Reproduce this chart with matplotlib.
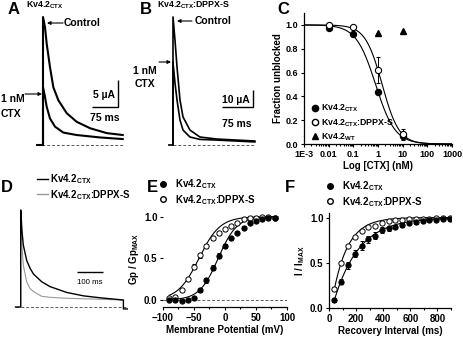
import numpy as np
import matplotlib
matplotlib.use('Agg')
import matplotlib.pyplot as plt
from matplotlib.transforms import Affine2D
from matplotlib.lines import Line2D
from matplotlib.ticker import FormatStrFormatter, MultipleLocator

plt.rcParams['font.family'] = ['Liberation Sans', 'DejaVu Sans']
plt.rcParams['font.weight'] = 'bold'
plt.rcParams['axes.labelweight'] = 'bold'
plt.rcParams['mathtext.fontset'] = 'custom'
plt.rcParams['mathtext.rm'] = 'Liberation Sans:bold'
plt.rcParams['mathtext.it'] = 'Liberation Sans:bold'
plt.rcParams['mathtext.bf'] = 'Liberation Sans:bold'
plt.rcParams['mathtext.default'] = 'rm'

W, H = 464, 337

# --- A: Kv4.2CTX currents, control vs 1 nM CTX (ms, uA)
a_t_ctrl = [-17, 0, 0, 5.8, 10.6, 20.2, 29.8, 44.2, 68.3, 97, 136, 184, 230]
a_i_ctrl = [0, 0, 23.7, 21.8, 18.8, 14.4, 10.7, 8.3, 5.9, 4.3, 3.1, 2.2, 1.85]
a_t_ctx = [0, 0, 5.8, 10.6, 20.2, 34.6, 58.6, 97, 164, 230]
a_i_ctx = [0, 10.7, 8.9, 7.1, 4.9, 3.4, 2.3, 1.85, 1.4, 1.1]

# --- B: Kv4.2CTX:DPPX-S currents (ms, uA)
b_t_ctrl = [-10, 0, 0, 4.8, 9.7, 16.9, 24.2, 41, 65, 106, 198]
b_i_ctrl = [0, 0, 75.3, 61.7, 45.9, 26.5, 16.5, 8.8, 4.7, 3.5, 2.35]
b_t_ctx = [0, 0, 4.8, 9.7, 16.9, 24.2, 41, 65, 106, 198]
b_i_ctx = [0, 48.8, 36.5, 26.5, 14.7, 8.8, 4.7, 3.3, 2.9, 1.8]

# --- C: dose response
c_conc = [0.01, 0.1, 1, 10]
c_ctx = [0.97, 0.92, 0.44, 0.07]
c_ctx_err = [0.01, 0.01, 0.02, 0.03]
c_dppx = [1.0, 0.98, 0.62, 0.08]
c_dppx_err = [0.01, 0.01, 0.11, 0.05]
c_wt_conc = [1, 10]
c_wt = [0.93, 0.95]
c_ticks = [1e-3, 1e-2, 1e-1, 1, 10, 100, 1000]
c_ticklabels = ['1E-3', '0.01', '0.1', '1', '10', '100', '1000']
ic50_ctx, hill_ctx = 0.8, 1.1
ic50_dppx, hill_dppx = 1.47, 1.27

# --- D: normalized traces (ms, I/Ipeak)
d_t_ctx = [-20, 0, 0, 5, 10, 23, 36, 49, 81, 113, 177, 241, 305, 395, 395, 410]
d_i_ctx = [0, 0, 1.0, 0.78, 0.64, 0.48, 0.40, 0.34, 0.26, 0.21, 0.15, 0.115,
           0.095, 0.072, -0.02, -0.02]
d_t_dppx = [0, 0, 4, 10, 23, 36, 49, 81, 113, 177, 305, 395]
d_i_dppx = [0, 1.0, 0.67, 0.43, 0.26, 0.19, 0.16, 0.11, 0.10, 0.09, 0.08, 0.072]

# --- E: conductance-voltage
e_v = [-90, -80, -70, -60, -50, -40, -30, -20, -10, 0, 10, 20, 30, 40, 50, 60, 70, 80]
e_ctx = [0.0, 0.0, -0.01, 0.0, 0.03, 0.12, 0.24, 0.39, 0.53, 0.65, 0.74, 0.81,
         0.87, 0.92, 0.95, 0.97, 0.98, 0.99]
e_ctx_err = [0.01, 0.01, 0.01, 0.01, 0.01, 0.02, 0.03, 0.03, 0.03, 0.02, 0.02,
             0.02, 0.02, 0.01, 0.01, 0.01, 0.01, 0.01]
e_dppx = [0.03, 0.04, 0.12, 0.25, 0.40, 0.54, 0.65, 0.74, 0.80, 0.85, 0.89, 0.93,
          0.97, 0.98, 0.99, 1.0, 1.0, 0.99]
e_dppx_err = [0.01, 0.01, 0.01, 0.02, 0.03, 0.03, 0.02, 0.02, 0.02, 0.02, 0.01,
              0.01, 0.01, 0.01, 0.01, 0.01, 0.01, 0.01]
vhalf_ctx, k_ctx = -11, 15
vhalf_dppx, k_dppx = -42, 17

# --- F: recovery from inactivation
f_t = [40, 90, 140, 190, 240, 290, 340, 390, 440, 490, 540, 590, 640, 690, 740, 790, 840, 890]
f_ctx = [0.09, 0.29, 0.47, 0.60, 0.69, 0.76, 0.80, 0.86, 0.88, 0.90, 0.92, 0.94,
         0.95, 0.96, 0.97, 0.97, 0.98, 0.98]
f_ctx_err = [0.02, 0.03, 0.04, 0.04, 0.05, 0.04, 0.04, 0.03, 0.03, 0.02, 0.02,
             0.02, 0.02, 0.01, 0.01, 0.01, 0.01, 0.01]
f_dppx = [0.21, 0.50, 0.69, 0.79, 0.85, 0.89, 0.91, 0.94, 0.96, 0.97, 0.97, 0.98,
          0.98, 0.98, 0.98, 0.99, 0.99, 0.99]
f_dppx_err = [0.02, 0.01, 0.01, 0.01, 0.01, 0.01, 0.01, 0.01, 0.01, 0.01, 0.01,
              0.01, 0.01, 0.01, 0.01, 0.01, 0.01, 0.01]
t0_ctx, tau_ctx = 22.6, 185
t0_dppx, tau_dppx = 14, 109

CTX = 'Kv4.2$_{CTX}$'
DPPX = 'Kv4.2$_{CTX}$:DPPX-S'
WT = 'Kv4.2$_{WT}$'

fig = plt.figure(figsize=(W / 100, H / 100), dpi=100)
pix = Affine2D().scale(1 / W, -1 / H).translate(0, 1) + fig.transFigure


def px_axes(x0, y0, x1, y1):
    return fig.add_axes([x0 / W, 1 - y1 / H, (x1 - x0) / W, (y1 - y0) / H])


def trace_axes(box, origin, x_per_px, y_per_px):
    x0, y0, x1, y1 = box
    ox, oy = origin
    ax = px_axes(x0, y0, x1, y1)
    ax.set_xlim((x0 - ox) * x_per_px, (x1 - ox) * x_per_px)
    ax.set_ylim((oy - y1) * y_per_px, (oy - y0) * y_per_px)
    ax.axis('off')
    return ax


def scale_bar(ax, x_end, y0, dx, dy, lw=1.0):
    ax.plot([x_end - dx, x_end, x_end], [y0, y0, y0 + dy], color='k', lw=lw,
            solid_joinstyle='miter', solid_capstyle='butt')


def label(x, y, s, size=7.5, **kw):
    kw.setdefault('ha', 'left')
    kw.setdefault('va', 'center')
    fig.text(x, y, s, transform=pix, fontsize=size, **kw)


def arrow(x_from, x_to, y):
    fig.add_artist(matplotlib.patches.FancyArrowPatch(
        (x_from, y), (x_to, y), transform=pix, arrowstyle='-|>',
        mutation_scale=5, lw=0.8, color='k', shrinkA=0, shrinkB=0))


def style_axes(ax, size=6.5):
    ax.spines['top'].set_visible(False)
    ax.spines['right'].set_visible(False)
    for s in ('left', 'bottom'):
        ax.spines[s].set_linewidth(0.9)
    ax.tick_params(which='both', direction='out', width=0.8, labelsize=size, pad=1.5)
    ax.tick_params(which='major', length=2.5)
    ax.tick_params(which='minor', length=1.5)


dash = (0, (3, 2))

# ---------------- A ----------------
axa = trace_axes((20, 10, 130, 150), (43, 145), 75 / 26, 5 / 27)
axa.plot([a_t_ctrl[0], a_t_ctrl[-1]], [0, 0], color='0.35', lw=0.7, ls=dash)
axa.plot(a_t_ctrl, a_i_ctrl, color='k', lw=1.5)
axa.plot(a_t_ctx, a_i_ctx, color='k', lw=1.5)
scale_bar(axa, 216, 7.0, 75, 5)
label(8, 9, 'A', size=12)
label(45, 5, CTX, size=6.3, ha='center')
label(64, 23, 'Control')
arrow(63, 47, 23)
label(1, 99, '1 nM')
label(1, 114, 'CTX')
arrow(25, 42, 94)
label(115, 95, '5 µA', ha='right')
label(105, 118, '75 ms', ha='center')

# ---------------- B ----------------
axb = trace_axes((150, 10, 270, 150), (173, 145), 75 / 31, 10 / 17)
axb.plot([b_t_ctrl[1], b_t_ctrl[-1]], [0, 0], color='0.35', lw=0.7, ls=dash)
axb.plot(b_t_ctrl, b_i_ctrl, color='k', lw=1.2)
axb.plot(b_t_ctx, b_i_ctx, color='k', lw=1.2)
scale_bar(axb, 194, 22.3, 75, 10)
label(140, 9, 'B', size=12)
label(193, 5, DPPX, size=6.3, ha='center')
label(195, 21, 'Control')
arrow(192, 177, 21)
label(133, 71, '1 nM')
label(135, 84, 'CTX')
arrow(159, 171, 62)
label(250, 100, '10 µA', ha='right')
label(237, 124, '75 ms', ha='center')

# ---------------- C ----------------
axc = px_axes(304, 13, 452, 144)
style_axes(axc)
axc.set_xscale('log')
axc.set_xlim(1e-3, 1e3)
axc.set_ylim(0, 1.1)
axc.set_xticks(c_ticks)
axc.set_xticklabels(c_ticklabels)
axc.set_yticks([0, 0.2, 0.4, 0.6, 0.8, 1.0])
axc.yaxis.set_major_formatter(FormatStrFormatter('%.1f'))
conc = np.logspace(-3, 3, 300)
axc.plot(conc, 1 / (1 + (conc / ic50_ctx) ** hill_ctx), color='k', lw=0.8)
axc.plot(conc, 1 / (1 + (conc / ic50_dppx) ** hill_dppx), color='k', lw=0.8)
eb = dict(ecolor='k', elinewidth=0.7, capsize=1.5, capthick=0.7, ms=4.5, mec='k', mew=0.8)
axc.errorbar(c_conc, c_ctx, yerr=c_ctx_err, fmt='o', mfc='k', **eb)
axc.errorbar(c_conc, c_dppx, yerr=c_dppx_err, fmt='o', mfc='white', **eb)
axc.plot(c_wt_conc, c_wt, '^', color='k', ms=5)
axc.set_ylabel('Fraction unblocked', fontsize=7, labelpad=2)
axc.set_xlabel('Log [CTX] (nM)', fontsize=7, labelpad=2)
c_handles = [Line2D([], [], ls='', marker='o', color='k', ms=4.5),
             Line2D([], [], ls='', marker='o', mfc='white', mec='k', ms=4.5),
             Line2D([], [], ls='', marker='^', color='k', ms=5)]
axc.legend(c_handles, [CTX, DPPX, WT], loc='upper left', bbox_to_anchor=(311, 103),
           bbox_transform=pix, frameon=False, fontsize=6.3, borderpad=0, borderaxespad=0,
           handlelength=0.9, handletextpad=0.3, labelspacing=0.3)
label(283, 9, 'C', size=12, ha='center')

# ---------------- D ----------------
axd = trace_axes((10, 200, 135, 315), (20.7, 307), 100 / 26, 1 / 97)
axd.plot([d_t_ctx[0], d_t_ctx[-1]], [0, 0], color='0.35', lw=0.7, ls=dash)
axd.plot(d_t_dppx, d_i_dppx, color='0.6', lw=0.8)
axd.plot(d_t_ctx, d_i_ctx, color='k', lw=1.0)
scale_bar(axd, 318, 0.36, 100, 0, lw=1.0)
label(90, 282, '100 ms', size=5.7, ha='center', weight='normal')
d_handles = [Line2D([], [], color='k', lw=1.0), Line2D([], [], color='0.6', lw=1.0)]
axd.legend(d_handles, [CTX, DPPX], loc='upper left', bbox_to_anchor=(37, 172),
           bbox_transform=pix, frameon=False, fontsize=7, borderpad=0, borderaxespad=0,
           handlelength=1.15, handletextpad=0.2, labelspacing=0.2)
label(7, 187, 'D', size=12, ha='center')

# ---------------- E ----------------
axe = px_axes(163, 210, 287, 307)
style_axes(axe, 7)
axe.spines['left'].set_visible(False)
axe.set_xlim(-100, 100)
axe.set_ylim(-0.084, 1.08)
axe.set_xticks([-100, -50, 0, 50, 100])
axe.xaxis.set_minor_locator(MultipleLocator(25))
axe.set_yticks([0, 0.5, 1.0])
axe.yaxis.set_major_formatter(FormatStrFormatter('%.1f'))
axe.plot([-100, 100], [0, 0], color='0.35', lw=0.7, ls=dash)
volts = np.linspace(-90, 85, 200)
axe.plot(volts, 1 / (1 + np.exp((vhalf_ctx - volts) / k_ctx)), color='k', lw=0.8)
axe.plot(volts, 1 / (1 + np.exp((vhalf_dppx - volts) / k_dppx)), color='k', lw=0.8)
eb_e = dict(ecolor='k', elinewidth=0.7, capsize=1.2, capthick=0.7, ms=3.8, mec='k', mew=0.7)
axe.errorbar(e_v, e_dppx, yerr=e_dppx_err, fmt='o', mfc='white', **eb_e)
axe.errorbar(e_v, e_ctx, yerr=e_ctx_err, fmt='o', mfc='k', **eb_e)
axe.set_ylabel('Gp / Gp$_{MAX}$', fontsize=7, labelpad=2)
axe.set_xlabel('Membrane Potential (mV)', fontsize=7, labelpad=1.5)
e_handles = [Line2D([], [], ls='', marker='o', color='k', ms=4),
             Line2D([], [], ls='', marker='o', mfc='white', mec='k', ms=4)]
axe.legend(e_handles, [CTX, DPPX], loc='upper left', bbox_to_anchor=(159, 177),
           bbox_transform=pix, frameon=False, fontsize=7, borderpad=0, borderaxespad=0,
           handlelength=0.9, handletextpad=0.75, labelspacing=0.2)
label(152, 187, 'E', size=12, ha='center')

# ---------------- F ----------------
axf = px_axes(329, 213, 451, 308)
style_axes(axf, 7)
axf.set_xlim(0, 900)
axf.set_ylim(0, 1.05)
axf.set_xticks([0, 200, 400, 600, 800])
axf.xaxis.set_minor_locator(MultipleLocator(100))
axf.set_yticks([0, 0.5, 1.0])
axf.yaxis.set_major_formatter(FormatStrFormatter('%.1f'))
times = np.linspace(f_t[0], f_t[-1], 200)
axf.plot(times, 1 - np.exp(-(times - t0_ctx) / tau_ctx), color='k', lw=0.8)
axf.plot(times, 1 - np.exp(-(times - t0_dppx) / tau_dppx), color='k', lw=0.8)
axf.errorbar(f_t, f_dppx, yerr=f_dppx_err, fmt='o', mfc='white', **eb_e)
axf.errorbar(f_t, f_ctx, yerr=f_ctx_err, fmt='o', mfc='k', **eb_e)
axf.set_ylabel('I / I$_{MAX}$', fontsize=7, labelpad=2)
axf.set_xlabel('Recovery Interval (ms)', fontsize=7, labelpad=1.5)
axf.legend(e_handles, [CTX, DPPX], loc='upper left', bbox_to_anchor=(326, 179),
           bbox_transform=pix, frameon=False, fontsize=7, borderpad=0, borderaxespad=0,
           handlelength=0.9, handletextpad=0.75, labelspacing=0.2)
label(290, 188, 'F', size=12, ha='center')

fig.savefig('out.png', dpi=100)
